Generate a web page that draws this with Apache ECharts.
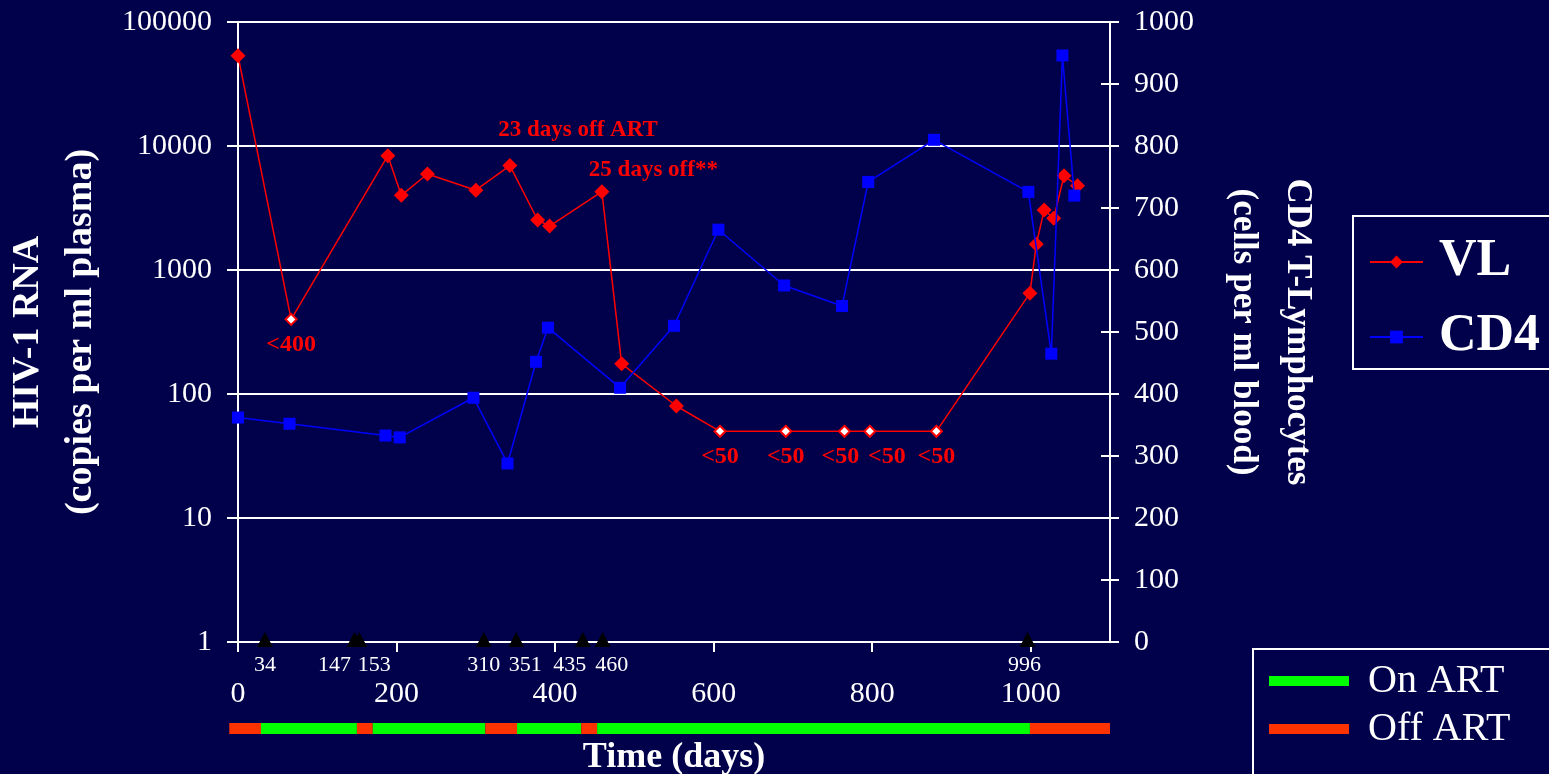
<!DOCTYPE html>
<html lang="en">
<head>
<meta charset="UTF-8">
<title>HIV-1 RNA and CD4 over time</title>
<script src="https://cdn.jsdelivr.net/npm/echarts@6/dist/echarts.min.js"></script>
<style>
    html, body { margin: 0; padding: 0; background: #00004b; }
    #chart { width: 1549px; height: 774px; }
</style>
</head>
<body>
<div id="chart"></div>
<script>
    // viral load, copies per ml plasma (open diamond = below detection limit)
    var vlDays = [0, 67, 189, 206, 239, 300, 343, 378, 393, 459, 484, 553, 608, 691, 765, 797, 881, 999, 1007, 1017, 1029, 1042, 1059];
    var vlValues = [53500, 400, 8350, 4000, 5950, 4400, 6950, 2530, 2260, 4280, 175, 80, 50, 50, 50, 50, 50, 650, 1610, 3050, 2610, 5750, 4790];
    var vlBelowLimit = [false, true, false, false, false, false, false, false, false, false, false, false, true, true, true, true, true, false, false, false, false, false, false];

    // CD4 T cells per ml blood
    var cd4Days = [0, 65, 186, 204, 297, 340, 376, 391, 482, 550, 606, 689, 762, 795, 878, 997, 1026, 1040, 1055];
    var cd4Values = [362, 352, 333, 330, 394, 288, 452, 507, 410, 510, 665, 575, 542, 742, 810, 726, 465, 946, 720];

    // days where therapy was stopped / restarted
    var switchDays = [34, 147, 153, 310, 351, 435, 460, 996];

    // therapy bar under the axis
    var artStart = [-11, 29, 150, 170, 312, 352, 433, 453, 999];
    var artEnd = [29, 150, 170, 312, 352, 433, 453, 999, 1100];
    var artState = ['Off ART', 'On ART', 'Off ART', 'On ART', 'Off ART', 'On ART', 'Off ART', 'On ART', 'Off ART'];

    var noteTexts = ['23 days off ART', '25 days off**'];
    var noteDays = [429, 524];
    var noteValues = [13460, 6400];

    // label nudges so close labels don't overlap
    var switchLabelShift = [0, -20, 15, 0, 9, -13, 9, -3];
    var vlLabelShift = {14: -4, 15: 17};

    var serif = 'Liberation Serif, Times New Roman, serif';
    var white = '#ffffff';
    var artColors = {'On ART': '#00ff00', 'Off ART': '#ff3300'};

    var vlData = vlDays.map(function (d, i) {
        var item = {value: [d, vlValues[i]]};
        if (vlBelowLimit[i]) {
            item.symbolSize = 11;
            item.itemStyle = {color: white, borderColor: '#ff0000', borderWidth: 2};
            item.label = {show: true, formatter: '<' + vlValues[i], position: 'bottom', distance: 7,
                offset: [vlLabelShift[i] || 0, 0]};
        }
        return item;
    });

    var switchData = switchDays.map(function (d) { return [d, 1]; });

    var artData = artStart.map(function (s, i) {
        return {value: [s, artEnd[i]], name: artState[i]};
    });

    var noteData = noteTexts.map(function (t, i) {
        return {name: t, value: [noteDays[i], noteValues[i]]};
    });

    var plain = function (v) { return String(Math.round(v)); };

    var chart = echarts.init(document.getElementById('chart'));

    var option = {
        backgroundColor: '#00004b',
        animation: false,
        textStyle: {fontFamily: serif, color: white},
        grid: [
            {left: 238, right: 439, top: 22, bottom: 132, outerBoundsMode: 'none', containLabel: false},
            {left: 238, right: 439, top: 723, height: 11, outerBoundsMode: 'none'}
        ],
        legend: [
            {
                data: ['VL', 'CD4'],
                orient: 'vertical',
                left: 1353, top: 216, height: 300,
                padding: [16, 60, 2, 16],
                itemGap: 15,
                itemWidth: 53, itemHeight: 16,
                borderColor: white, borderWidth: 2,
                textStyle: {color: white, fontFamily: serif, fontSize: 52, fontWeight: 'bold', lineHeight: 60, padding: [0, 0, 0, 11]}
            },
            {
                data: ['On ART', 'Off ART'],
                orient: 'vertical',
                left: 1253, top: 649, height: 300,
                padding: [10, 60, 60, 16],
                itemGap: 4,
                icon: 'rect',
                itemWidth: 80, itemHeight: 10,
                borderColor: white, borderWidth: 2,
                textStyle: {color: white, fontFamily: serif, fontSize: 40, lineHeight: 44, padding: [0, 0, 0, 14]}
            }
        ],
        xAxis: [
            {
                type: 'value', gridIndex: 0, min: 0, max: 1100, interval: 200,
                name: 'Time (days)', nameLocation: 'middle', nameGap: 98,
                nameTextStyle: {color: white, fontFamily: serif, fontSize: 36, fontWeight: 'bold'},
                axisLine: {lineStyle: {color: white, width: 2}},
                axisTick: {length: 10, lineStyle: {color: white, width: 2}},
                axisLabel: {color: white, fontFamily: serif, fontSize: 30, margin: 37, showMaxLabel: false, formatter: plain},
                splitLine: {show: false}
            },
            {
                type: 'value', gridIndex: 1, min: 0, max: 1100, show: false
            }
        ],
        yAxis: [
            {
                type: 'log', gridIndex: 0, logBase: 10, min: 1, max: 100000,
                name: 'HIV-1 RNA\n(copies per ml plasma)', nameLocation: 'middle', nameRotate: 90, nameGap: 130,
                nameTextStyle: {color: white, fontFamily: serif, fontSize: 38, fontWeight: 'bold', lineHeight: 53},
                axisLine: {show: true, lineStyle: {color: white, width: 2}},
                axisTick: {show: true, length: 11, lineStyle: {color: white, width: 2}},
                axisLabel: {color: white, fontFamily: serif, fontSize: 30, margin: 26, formatter: plain},
                splitLine: {show: true, lineStyle: {color: white, width: 2}}
            },
            {
                type: 'value', gridIndex: 0, position: 'right', min: 0, max: 1000, interval: 100,
                name: 'CD4 T-Lymphocytes\n(cells per ml blood)', nameLocation: 'middle', nameRotate: -90, nameGap: 106,
                nameTextStyle: {color: white, fontFamily: serif, fontSize: 35, fontWeight: 'bold', lineHeight: 54},
                axisLine: {show: true, lineStyle: {color: white, width: 2}},
                axisTick: {show: true, length: 9, lineStyle: {color: white, width: 2}},
                axisLabel: {color: white, fontFamily: serif, fontSize: 30, margin: 24, formatter: plain},
                splitLine: {show: false}
            },
            {
                type: 'value', gridIndex: 1, min: 0, max: 1, show: false
            },
            {
                // inner half of the crossing ticks on the right axis
                type: 'value', gridIndex: 0, position: 'right', offset: 0, min: 0, max: 1000, interval: 100,
                axisLine: {show: false},
                axisTick: {show: true, inside: true, length: 9, lineStyle: {color: white, width: 2}},
                axisLabel: {show: false},
                splitLine: {show: false}
            }
        ],
        series: [
            {
                name: 'VL', type: 'line', xAxisIndex: 0, yAxisIndex: 0,
                data: vlData,
                symbol: 'diamond', symbolSize: 15,
                color: '#ff0000',
                itemStyle: {color: '#ff0000'},
                lineStyle: {color: '#ff0000', width: 1.5},
                label: {color: '#ff0000', fontFamily: serif, fontSize: 24, fontWeight: 'bold'},
                clip: false, z: 3
            },
            {
                name: 'CD4', type: 'line', xAxisIndex: 0, yAxisIndex: 1,
                data: cd4Days.map(function (d, i) { return [d, cd4Values[i]]; }),
                symbol: 'rect', symbolSize: 12,
                color: '#0000ff',
                itemStyle: {color: '#0000ff'},
                lineStyle: {color: '#0000ff', width: 1.5},
                clip: false, z: 4
            },
            {
                // black triangles + day numbers on the time axis
                name: 'switch', type: 'custom', xAxisIndex: 0, yAxisIndex: 0,
                data: switchData,
                clip: false, z: 10,
                renderItem: function (params, api) {
                    var p = api.coord([api.value(0), api.value(1)]);
                    var dx = switchLabelShift[params.dataIndex];
                    return {
                        type: 'group',
                        children: [
                            {
                                type: 'polygon',
                                shape: {points: [[p[0], p[1] - 10], [p[0] + 8, p[1] + 5], [p[0] - 8, p[1] + 5]]},
                                style: {fill: '#000000'},
                                z2: 100
                            },
                            {
                                type: 'text', x: p[0] + dx, y: p[1] + 12,
                                style: {text: String(api.value(0)), fill: white, font: '22px ' + serif,
                                    align: 'center', verticalAlign: 'top'}
                            }
                        ]
                    };
                }
            },
            {
                name: 'notes', type: 'scatter', xAxisIndex: 0, yAxisIndex: 0,
                data: noteData,
                symbolSize: 0,
                itemStyle: {opacity: 1},
                label: {show: true, position: 'inside', color: '#ff0000', opacity: 1, fontFamily: serif, fontSize: 23, fontWeight: 'bold',
                    formatter: function (p) { return p.name; }},
                z: 6
            },
            {
                name: 'ART', type: 'custom', xAxisIndex: 1, yAxisIndex: 2,
                data: artData,
                clip: false,
                renderItem: function (params, api) {
                    var a = api.coord([api.value(0), 0]);
                    var b = api.coord([api.value(1), 0]);
                    var cs = params.coordSys;
                    return {
                        type: 'rect',
                        shape: {x: a[0], y: cs.y, width: b[0] - a[0], height: cs.height},
                        style: {fill: artColors[artState[params.dataIndex]]}
                    };
                }
            },
            {name: 'On ART', type: 'line', data: [], color: '#00ff00'},
            {name: 'Off ART', type: 'line', data: [], color: '#ff3300'}
        ]
    };

    chart.setOption(option);
</script>
</body>
</html>
